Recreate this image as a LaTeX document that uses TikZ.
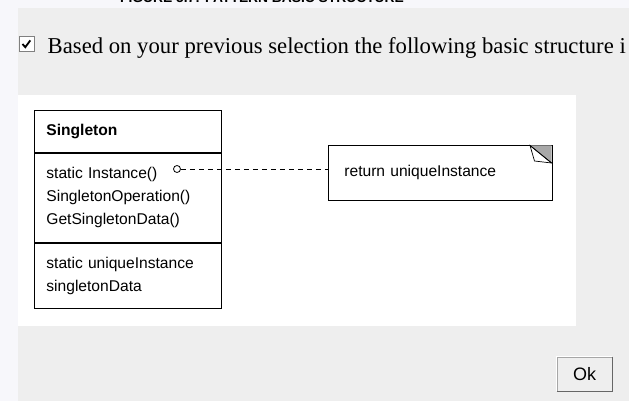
\documentclass[tikz,border=0pt]{standalone}
\usepackage{fontspec}
\setmainfont{Liberation Serif}
\setsansfont{Liberation Sans}
\usepackage{xcolor}
\usepackage{tikz}
\usetikzlibrary{arrows.meta,positioning}
\definecolor{dlgbg}{HTML}{EEEEEE}
\definecolor{stripbg}{HTML}{F7F7FB}
\definecolor{foldgray}{HTML}{A8A8A8}

\begin{document}
\begin{tikzpicture}[x=1pt,y=-1pt,
  classpart/.style={draw,line width=0.8pt,anchor=north west,minimum width=187pt,inner xsep=12pt,
    text width=163pt,align=left,font=\sffamily\fontsize{15.6}{23}\selectfont},
  notebox/.style={draw,line width=0.8pt,anchor=north west,minimum width=224pt,minimum height=55pt,
    inner xsep=16pt,text width=192pt,align=left,font=\sffamily\fontsize{15.6}{19}\selectfont}]
  \useasboundingbox (0,0) rectangle (629,401);
  % dialog background
  \fill[dlgbg] (0,0) rectangle (629,401);
  \fill[stripbg] (0,0) rectangle (629,8);
  \fill[stripbg] (0,0) rectangle (18,401);
  \fill[white] (18,95) rectangle (576,326);
  % caption, cut off at the top edge
  \begin{scope}
    \clip (0,0) rectangle (629,8);
    \node[anchor=base,font=\sffamily\bfseries\fontsize{13.8}{16}\selectfont] (caption) at (262,3) {FIGURE 5.7: PATTERN BASIC STRUCTURE};
  \end{scope}
  % checkbox and message
  \node[draw=gray,fill=white,line width=0.7pt,minimum size=15pt,inner sep=0pt] (chk) at (26.5,43.5) {};
  \draw[line width=1.8pt] ([xshift=-4pt,yshift=-0.5pt]chk.center) -- ++(2.8,3.2) -- ++(5,-6.8);
  \node[anchor=base west,inner sep=0pt,font=\fontsize{22.7}{26}\selectfont] (msg) at (47.5,54)
    {Based on your previous selection the following basic structure i};
  % Singleton class
  \node[classpart,minimum height=42pt] (cname) at (34,110) {\textbf{Singleton}};
  \node[classpart,minimum height=89pt,below=0pt of cname] (cops)
    {static Instance()\\SingletonOperation()\\GetSingletonData()};
  \node[classpart,minimum height=65pt,below=0pt of cops] (cattr)
    {static uniqueInstance\\singletonData};
  % note with folded corner
  \node[notebox] (note) at (328,145) {return uniqueInstance};
  \fill[foldgray] (530,145.5) -- (551.6,145.5) -- (551.6,163) -- cycle;
  \filldraw[fill=white,line width=0.7pt] (530,145.5) -- (534.5,161) -- (551.6,163) -- cycle;
  \draw[line width=0.7pt] (530,145.5) -- (551.6,163);
  \node[draw,circle,line width=0.8pt,inner sep=0pt,minimum size=7pt] (dot) at (177,169) {};
  \draw[line width=0.8pt,dash pattern=on 5pt off 4pt] (dot.east) -- (dot -| note.west);
  % Ok button
  \node[draw=gray!70,fill=dlgbg,minimum width=55pt,minimum height=34pt,inner sep=0pt,
    font=\sffamily\fontsize{18}{20}\selectfont] (okbtn) at (584.5,374) {Ok};
  \draw[white,line width=1.2pt] (okbtn.south west) -- (okbtn.north west) -- (okbtn.north east);
  \draw[gray!80!black,line width=1.4pt] (okbtn.north east) -- (okbtn.south east) -- (okbtn.south west);
\end{tikzpicture}
\end{document}
